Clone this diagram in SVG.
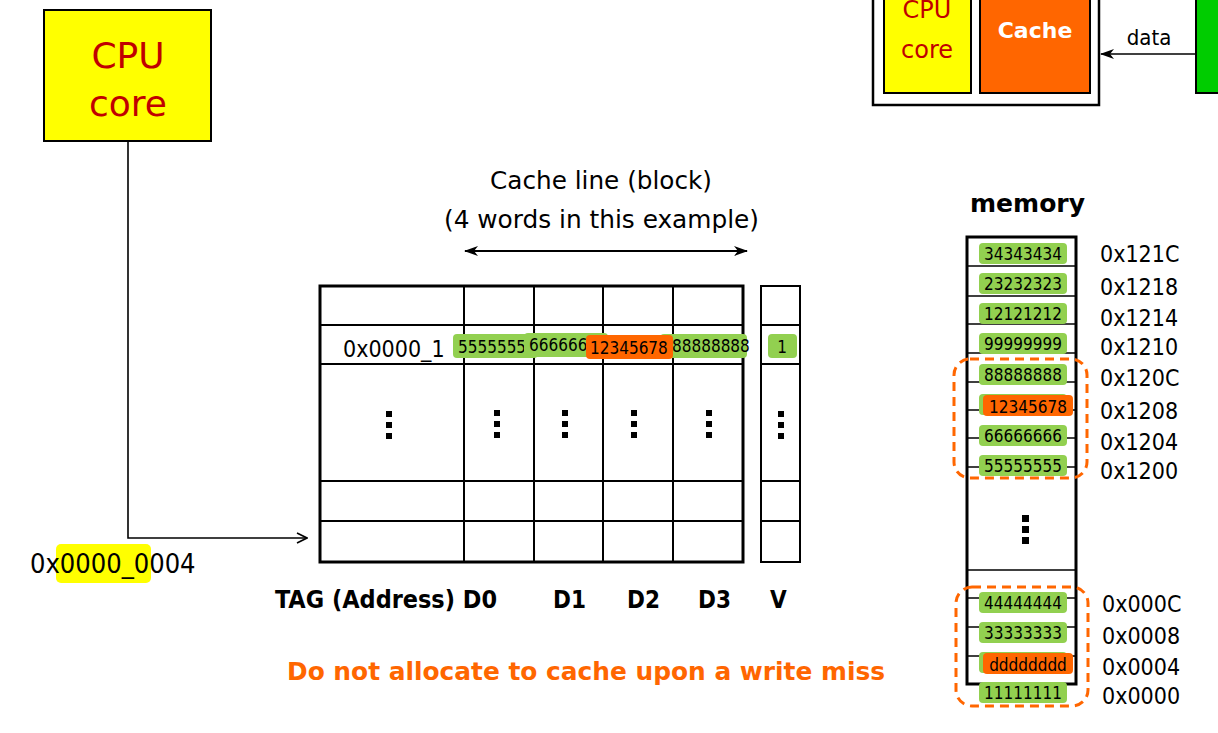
<svg xmlns="http://www.w3.org/2000/svg" width="1218" height="733" viewBox="0 0 1218 733">
<style>
text{font-family:"DejaVu Sans Condensed","DejaVu Sans",sans-serif;fill:#000}
text.r{font-family:"DejaVu Sans",sans-serif}
.g{fill:#92D050}
.o{fill:#FF6600}
.lbl{font-size:17px}
.addr{font-size:23px}
.b{font-weight:bold}
.grid{stroke:#000;stroke-width:2;fill:none}
.thick{stroke:#000;stroke-width:3;fill:none}
.dash{fill:none;stroke:#FF6600;stroke-width:3;stroke-dasharray:9,6}
.dot{fill:#000}
</style>
<defs>
<marker id="open" viewBox="0 0 12 12" refX="11" refY="6" markerWidth="12" markerHeight="12" markerUnits="userSpaceOnUse" orient="auto">
<path d="M1,1 L11,6 L1,11" fill="none" stroke="#000" stroke-width="1.6"/>
</marker>
<marker id="fill" viewBox="0 0 14 10" refX="13" refY="5" markerWidth="14" markerHeight="10" markerUnits="userSpaceOnUse" orient="auto-start-reverse">
<path d="M0,0 L14,5 L0,10 L4,5 Z" fill="#000"/>
</marker>
</defs>

<!-- top right mini diagram -->
<g id="mini">
<rect x="873" y="-10" width="226" height="115" fill="#fff" stroke="#000" stroke-width="2.5"/>
<rect x="884" y="-10" width="87" height="103" fill="#FFFF00" stroke="#000" stroke-width="2"/>
<text x="927" y="18" text-anchor="middle" font-size="24" class="r" style="fill:#C00000">CPU</text>
<text x="927" y="58" text-anchor="middle" font-size="24" class="r" style="fill:#C00000">core</text>
<rect x="980" y="-10" width="110" height="103" fill="#FF6600" stroke="#000" stroke-width="2"/>
<text x="1035" y="38" text-anchor="middle" font-size="22" font-weight="bold" class="r" style="fill:#fff">Cache</text>
<rect x="1196" y="-10" width="40" height="103" fill="#00CC00" stroke="#000" stroke-width="2"/>
<text x="1149" y="45" text-anchor="middle" font-size="22">data</text>
</g>

<!-- CPU core -->
<g id="cpu">
<rect x="44" y="10" width="167" height="131" fill="#FFFF00" stroke="#000" stroke-width="2"/>
<text x="128" y="68" text-anchor="middle" font-size="36" class="r" style="fill:#C00000">CPU</text>
<text x="128" y="116" text-anchor="middle" font-size="36" class="r" style="fill:#C00000">core</text>
</g>

<!-- address -->
<g id="address">
<rect x="56" y="544" width="95" height="39" rx="5" fill="#FFFF00"/>
<text x="30" y="573" font-size="27">0x0000_0004</text>
</g>

<!-- cache line title -->
<g id="title">
<text x="490" y="189" font-size="24" class="r" textLength="222" lengthAdjust="spacingAndGlyphs">Cache line (block)</text>
<text x="444" y="228" font-size="24" class="r" textLength="315" lengthAdjust="spacingAndGlyphs">(4 words in this example)</text>
</g>

<!-- connectors -->
<g id="connectors">
<path d="M128,141 V538 H307" fill="none" stroke="#000" stroke-width="1.6" marker-end="url(#open)"/>
<line x1="465" y1="251" x2="747" y2="251" stroke="#000" stroke-width="2" marker-start="url(#fill)" marker-end="url(#fill)"/>
<line x1="1196" y1="54" x2="1101" y2="54" stroke="#000" stroke-width="1.6" marker-end="url(#fill)"/>
</g>

<!-- cache table -->
<g id="cache">
<line class="grid" x1="320" y1="325" x2="743" y2="325"/>
<line class="grid" x1="320" y1="364" x2="743" y2="364"/>
<line class="grid" x1="320" y1="481" x2="743" y2="481"/>
<line class="grid" x1="320" y1="521" x2="743" y2="521"/>
<line class="grid" x1="464" y1="286" x2="464" y2="562"/>
<line class="grid" x1="534" y1="286" x2="534" y2="562"/>
<line class="grid" x1="603" y1="286" x2="603" y2="562"/>
<line class="grid" x1="673" y1="286" x2="673" y2="562"/>
<rect class="thick" x="320" y="286" width="423" height="276"/>
<text x="343" y="357" font-size="23">0x0000_1</text>
<rect class="g" x="453" y="334" width="85" height="24" rx="4"/>
<text x="458" y="353" class="lbl">5555555</text>
<rect class="g" x="524" y="333" width="84" height="24" rx="4"/>
<text x="529" y="351" class="lbl">666666</text>
<rect class="g" x="660" y="334" width="87" height="24" rx="4"/>
<text x="672" y="352" class="lbl">88888888</text>
<rect class="o" x="586" y="335" width="87" height="24" rx="4"/>
<text x="590" y="354" class="lbl">12345678</text>
</g>

<g id="valid">
<rect class="grid" x="761" y="286" width="39" height="276"/>
<line class="grid" x1="761" y1="325" x2="800" y2="325"/>
<line class="grid" x1="761" y1="364" x2="800" y2="364"/>
<line class="grid" x1="761" y1="481" x2="800" y2="481"/>
<line class="grid" x1="761" y1="521" x2="800" y2="521"/>
<rect class="g" x="768" y="334" width="29" height="24" rx="4"/>
<text x="782" y="353" class="lbl" text-anchor="middle">1</text>
</g>

<g id="dots">
<rect class="dot" x="386" y="411" width="6" height="6"/><rect class="dot" x="386" y="422" width="6" height="6"/><rect class="dot" x="386" y="433" width="6" height="6"/>
<rect class="dot" x="494" y="410" width="6" height="6"/><rect class="dot" x="494" y="421" width="6" height="6"/><rect class="dot" x="494" y="432" width="6" height="6"/>
<rect class="dot" x="562" y="410" width="6" height="6"/><rect class="dot" x="562" y="421" width="6" height="6"/><rect class="dot" x="562" y="432" width="6" height="6"/>
<rect class="dot" x="631" y="410" width="6" height="6"/><rect class="dot" x="631" y="421" width="6" height="6"/><rect class="dot" x="631" y="432" width="6" height="6"/>
<rect class="dot" x="706" y="410" width="6" height="6"/><rect class="dot" x="706" y="421" width="6" height="6"/><rect class="dot" x="706" y="432" width="6" height="6"/>
<rect class="dot" x="778" y="411" width="6" height="6"/><rect class="dot" x="778" y="422" width="6" height="6"/><rect class="dot" x="778" y="433" width="6" height="6"/>
</g>

<g id="columns">
<text x="275" y="608" font-size="24" class="b" textLength="222" lengthAdjust="spacingAndGlyphs">TAG (Address) D0</text>
<text x="553" y="608" font-size="24" class="b">D1</text>
<text x="627" y="608" font-size="24" class="b">D2</text>
<text x="698" y="608" font-size="24" class="b">D3</text>
<text x="770" y="608" font-size="24" class="b">V</text>
</g>

<g id="note">
<text x="287" y="680" font-size="24" class="b r" style="fill:#FF6600" textLength="598" lengthAdjust="spacingAndGlyphs">Do not allocate to cache upon a write miss</text>
</g>

<!-- memory -->
<g id="memory">
<text x="970" y="212" font-size="24" class="b r" textLength="115" lengthAdjust="spacingAndGlyphs">memory</text>
<g stroke="#000" stroke-width="1.5">
<line x1="967" y1="266" x2="1076" y2="266"/>
<line x1="967" y1="296" x2="1076" y2="296"/>
<line x1="967" y1="324" x2="1076" y2="324"/>
<line x1="967" y1="353" x2="1076" y2="353"/>
<line x1="967" y1="382" x2="1076" y2="382"/>
<line x1="967" y1="410" x2="1076" y2="410"/>
<line x1="967" y1="438" x2="1076" y2="438"/>
<line x1="967" y1="467" x2="1076" y2="467"/>
<line x1="967" y1="570" x2="1076" y2="570"/>
<line x1="967" y1="598" x2="1076" y2="598"/>
<line x1="967" y1="627" x2="1076" y2="627"/>
<line x1="967" y1="656" x2="1076" y2="656"/>
</g>
<path d="M967,684 V237 H1076 V684 Z" fill="none" stroke="#000" stroke-width="3"/>
<rect class="dot" x="1022" y="515" width="7" height="7"/><rect class="dot" x="1022" y="526" width="7" height="7"/><rect class="dot" x="1022" y="537" width="7" height="7"/>

<rect class="g" x="979" y="243" width="88" height="21" rx="4"/><text x="1023" y="260" class="lbl" text-anchor="middle">34343434</text>
<rect class="g" x="979" y="273" width="88" height="21" rx="4"/><text x="1023" y="290" class="lbl" text-anchor="middle">23232323</text>
<rect class="g" x="979" y="303" width="88" height="21" rx="4"/><text x="1023" y="320" class="lbl" text-anchor="middle">12121212</text>
<rect class="g" x="979" y="333" width="88" height="21" rx="4"/><text x="1023" y="350" class="lbl" text-anchor="middle">99999999</text>
<rect class="g" x="979" y="364" width="88" height="21" rx="4"/><text x="1023" y="381" class="lbl" text-anchor="middle">88888888</text>
<rect class="g" x="979" y="394" width="88" height="21" rx="4"/>
<rect class="o" x="983" y="395" width="90" height="21" rx="4"/><text x="1028" y="413" class="lbl" text-anchor="middle">12345678</text>
<rect class="g" x="979" y="425" width="88" height="21" rx="4"/><text x="1023" y="442" class="lbl" text-anchor="middle">66666666</text>
<rect class="g" x="979" y="455" width="88" height="21" rx="4"/><text x="1023" y="472" class="lbl" text-anchor="middle">55555555</text>

<rect class="g" x="979" y="592" width="88" height="21" rx="4"/><text x="1023" y="609" class="lbl" text-anchor="middle">44444444</text>
<rect class="g" x="979" y="622" width="88" height="21" rx="4"/><text x="1023" y="639" class="lbl" text-anchor="middle">33333333</text>
<rect class="g" x="979" y="652" width="88" height="21" rx="4"/>
<rect class="o" x="983" y="653" width="90" height="21" rx="4"/><text x="1028" y="671" class="lbl" text-anchor="middle">dddddddd</text>
<rect class="g" x="979" y="682" width="88" height="21" rx="4"/><text x="1023" y="699" class="lbl" text-anchor="middle">11111111</text>

<rect class="dash" x="954" y="359" width="133" height="119" rx="16"/>
<rect class="dash" x="956" y="587" width="132" height="119" rx="16"/>

<g class="addr">
<text x="1100" y="262" class="addr">0x121C</text>
<text x="1100" y="295" class="addr">0x1218</text>
<text x="1100" y="326" class="addr">0x1214</text>
<text x="1100" y="355" class="addr">0x1210</text>
<text x="1100" y="386" class="addr">0x120C</text>
<text x="1100" y="419" class="addr">0x1208</text>
<text x="1100" y="450" class="addr">0x1204</text>
<text x="1100" y="479" class="addr">0x1200</text>
<text x="1102" y="612" class="addr">0x000C</text>
<text x="1102" y="644" class="addr">0x0008</text>
<text x="1102" y="675" class="addr">0x0004</text>
<text x="1102" y="704" class="addr">0x0000</text>
</g>
</g>
</svg>
